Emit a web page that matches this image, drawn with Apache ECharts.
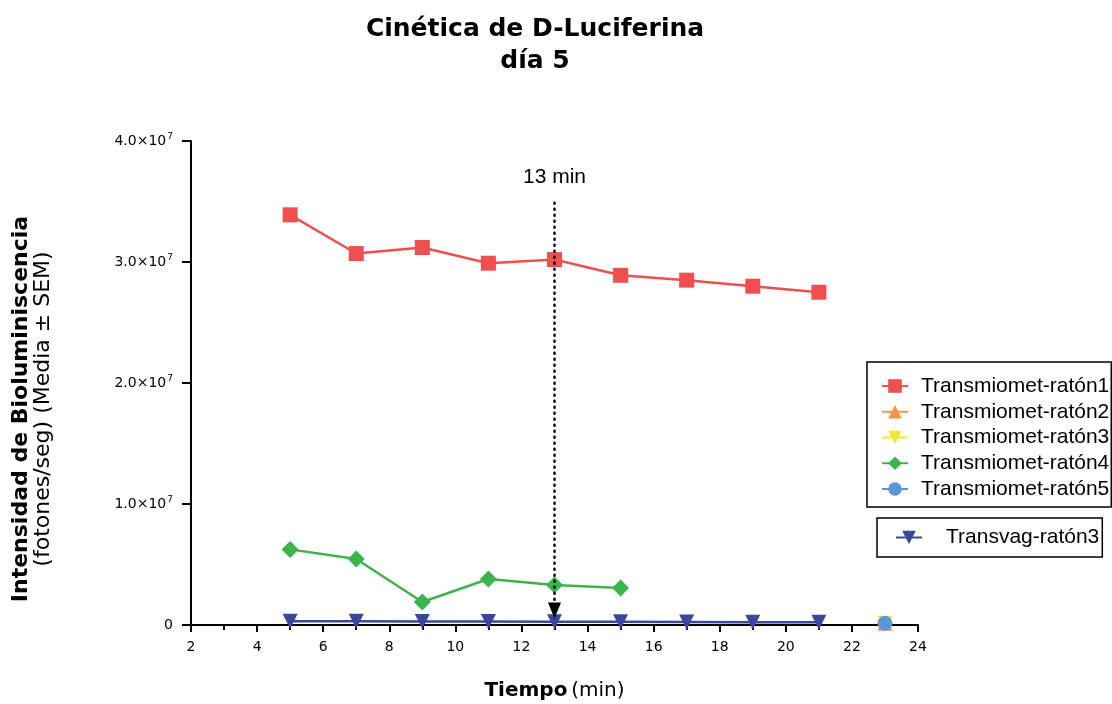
<!DOCTYPE html>
<html>
<head>
<meta charset="utf-8">
<script src="https://cdn.jsdelivr.net/npm/echarts@6/dist/echarts.min.js"></script>
<style>html,body{margin:0;padding:0;background:#fff}#c{width:1112px;height:704px}</style>
</head>
<body>
<div id="c"></div>
<script>
const timesA = [5, 7, 9, 11, 13, 15, 17, 19, 21];
const timesB = [5, 7, 9, 11, 13, 15];
const timesC = [23];
const raton1 = [3.39e7, 3.07e7, 3.12e7, 2.99e7, 3.02e7, 2.89e7, 2.85e7, 2.80e7, 2.75e7];
const raton2 = [1.5e5];
const raton3 = [1.5e5];
const raton4 = [6.25e6, 5.45e6, 1.9e6, 3.8e6, 3.3e6, 3.05e6];
const raton5 = [1.5e5];
const transvag3 = [3.0e5, 3.0e5, 2.9e5, 2.8e5, 2.7e5, 2.6e5, 2.4e5, 2.3e5, 2.2e5];
const yTickLabels = {0: '0', 10000000: '1.0', 20000000: '2.0', 30000000: '3.0', 40000000: '4.0'};
const markTime = 13;

const pair = (xs, ys) => xs.map((x, i) => [x, ys[i]]);
const chart = echarts.init(document.getElementById('c'));
const base = {type: 'line', symbolSize: 15, lineStyle: {width: 2.5}, z: 3};
chart.setOption({
  animation: false,
  textStyle: {fontFamily: 'DejaVu Sans'},
  grid: {left: 191, right: 194, top: 141, bottom: 79, containLabel: false, outerBoundsMode: 'none'},
  legend: [{
    data: ['Transmiomet-ratón1', 'Transmiomet-ratón2', 'Transmiomet-ratón3', 'Transmiomet-ratón4', 'Transmiomet-ratón5'],
    orient: 'vertical', left: 867, top: 362,
    padding: [13.5, 2, 7.5, 14], itemGap: 4.75, itemWidth: 26, itemHeight: 17,
    borderColor: '#000', borderWidth: 1.5,
    textStyle: {fontFamily: 'Liberation Sans', fontSize: 21, color: '#000', padding: [0, 0, 0, 8]}
  }, {
    data: ['Transvag-ratón3'],
    orient: 'vertical', left: 877, top: 518,
    padding: [9, 3, 9, 18], itemWidth: 26, itemHeight: 17, itemGap: 30,
    borderColor: '#000', borderWidth: 1.5,
    textStyle: {fontFamily: 'Liberation Sans', fontSize: 21, color: '#000', padding: [0, 0, 0, 19]}
  }],
  xAxis: {
    type: 'value', min: 2, max: 24, interval: 2,
    name: '{b|Tiempo} {n|(min)}', nameLocation: 'middle', nameGap: 56,
    nameTextStyle: {rich: {
      b: {fontFamily: 'DejaVu Sans', fontWeight: 'bold', fontSize: 20, color: '#000'},
      n: {fontFamily: 'DejaVu Sans', fontSize: 20, color: '#000'}
    }},
    axisLine: {onZero: false, lineStyle: {color: '#000', width: 2}},
    axisTick: {show: true, inside: false, length: 7, lineStyle: {color: '#000', width: 2}},
    minorTick: {show: true, splitNumber: 2, length: 5, lineStyle: {color: '#000', width: 2}},
    axisLabel: {fontFamily: 'DejaVu Sans', fontSize: 14, color: '#000', margin: 15},
    splitLine: {show: false}
  },
  yAxis: {
    type: 'value', min: 0, max: 4e7, interval: 1e7,
    axisLine: {show: true, lineStyle: {color: '#000', width: 2}},
    axisTick: {show: true, length: 9, lineStyle: {color: '#000', width: 2}},
    axisLabel: {
      margin: 18, color: '#000',
      formatter: v => v === 0 ? '{a|0}' : '{a|' + yTickLabels[v] + '×10}{s|7}',
      rich: {
        a: {fontFamily: 'DejaVu Sans', fontSize: 14, color: '#000'},
        s: {fontFamily: 'DejaVu Sans', fontSize: 9, color: '#000', verticalAlign: 'top', padding: [0, 0, 9, 1]}
      }
    },
    splitLine: {show: false}
  },
  graphic: [{
    type: 'text', x: 535, y: 13,
    style: {
      text: 'Cinética de D-Luciferina\ndía 5',
      align: 'center', verticalAlign: 'top',
      font: 'bold 25px "DejaVu Sans"', lineHeight: 32, fill: '#000'
    }
  }, {
    type: 'text', x: 32, y: 409, rotation: Math.PI / 2,
    style: {
      text: '{b|Intensidad de Bioluminiscencia}\n{n|(fotones/seg) (Media ± SEM)}',
      align: 'center', verticalAlign: 'middle',
      rich: {
        b: {fontFamily: 'DejaVu Sans', fontWeight: 'bold', fontSize: 22, lineHeight: 22, fill: '#000', align: 'center'},
        n: {fontFamily: 'DejaVu Sans', fontSize: 22, lineHeight: 22, fill: '#000', align: 'center'}
      }
    }
  }],
  series: [
    Object.assign({}, base, {
      name: 'Transmiomet-ratón1', data: pair(timesA, raton1), symbol: 'rect',
      itemStyle: {color: '#f04f4f'}, lineStyle: {width: 2.5, color: '#f04f4f'},
      markLine: {
        silent: true, symbol: ['none', 'triangle'], symbolSize: [13, 16],
        lineStyle: {type: [1, 5], cap: 'round', color: '#000', width: 2.5},
        label: {show: true, position: 'start', formatter: '13 min', distance: 15,
                fontFamily: 'Liberation Sans', fontSize: 21, color: '#000'},
        data: [[{coord: [markTime, 3.49e7]}, {coord: [markTime, 0.12e7]}]]
      }
    }),
    Object.assign({}, base, {
      name: 'Transmiomet-ratón2', data: pair(timesC, raton2), symbol: 'triangle',
      itemStyle: {color: '#f79447'}, lineStyle: {width: 2.5, color: '#f79447'}
    }),
    Object.assign({}, base, {
      name: 'Transmiomet-ratón3', data: pair(timesC, raton3), symbol: 'triangle', symbolRotate: 180,
      itemStyle: {color: '#f2e63a'}, lineStyle: {width: 2.5, color: '#f2e63a'}
    }),
    Object.assign({}, base, {
      name: 'Transmiomet-ratón4', data: pair(timesB, raton4), symbol: 'diamond', symbolSize: 17,
      itemStyle: {color: '#3bb44a'}, lineStyle: {width: 2.5, color: '#3bb44a'}
    }),
    Object.assign({}, base, {
      name: 'Transmiomet-ratón5', data: pair(timesC, raton5), symbol: 'circle',
      itemStyle: {color: '#5b97d3'}, lineStyle: {width: 2.5, color: '#5b97d3'}
    }),
    Object.assign({}, base, {
      name: 'Transvag-ratón3', data: pair(timesA, transvag3), symbol: 'triangle', symbolRotate: 180,
      itemStyle: {color: '#3a479c'}, lineStyle: {width: 2.5, color: '#3a479c'}
    })
  ]
});
</script>
</body>
</html>
